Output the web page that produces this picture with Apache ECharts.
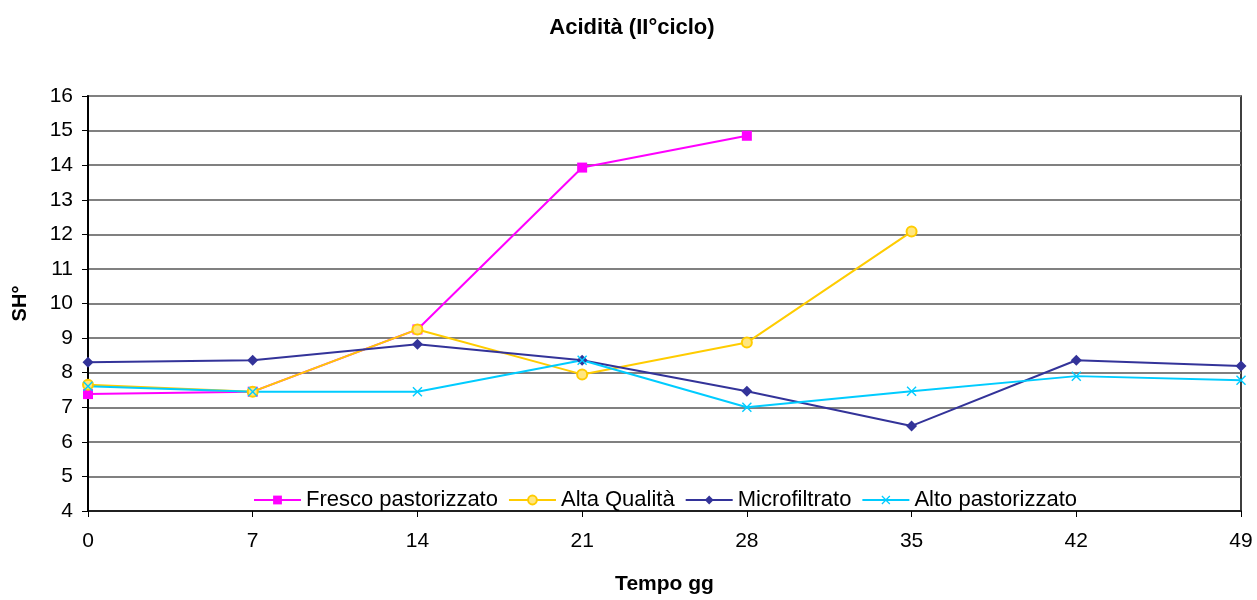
<!DOCTYPE html>
<html>
<head>
<meta charset="utf-8">
<script src="https://cdn.jsdelivr.net/npm/echarts@6/dist/echarts.min.js"></script>
<style>html,body{margin:0;padding:0;background:#fff;}#c{width:1257px;height:600px;}</style>
</head>
<body>
<div id="c"></div>
<script>
const categories = ['0','7','14','21','28','35','42','49'];
const frescoPastorizzato = [7.38, 7.45, 9.25, 13.93, 14.85, null, null, null];
const altaQualita = [7.65, 7.45, 9.25, 7.95, 8.87, 12.08, null, null];
const microfiltrato = [8.3, 8.36, 8.82, 8.36, 7.46, 6.46, 8.36, 8.19];
const altoPastorizzato = [7.61, 7.45, 7.45, 8.36, 7.0, 7.46, 7.9, 7.78];
const seriesNames = ['Fresco pastorizzato', 'Alta Qualità', 'Microfiltrato', 'Alto pastorizzato'];

const crossPath = 'path://M0,1L1,0L5,4L9,0L10,1L6,5L10,9L9,10L5,6L1,10L0,9L4,5Z';
const font = 'Liberation Sans, Arial, sans-serif';

const chart = echarts.init(document.getElementById('c'), null, {renderer: 'canvas'});
chart.setOption({
  animation: false,
  backgroundColor: '#fff',
  title: {
    text: 'Acidità (II°ciclo)',
    left: 627, top: 12, textAlign: 'center',
    textStyle: {fontFamily: font, fontSize: 22, fontWeight: 'bold', color: '#000'}
  },
  grid: {left: 88, right: 16, top: 96, bottom: 85, show: true, borderColor: '#000', borderWidth: 1.5, backgroundColor: 'transparent'},
  legend: {
    bottom: 84, left: 248,
    itemWidth: 47, itemHeight: 11, itemGap: 10,
    textStyle: {fontFamily: font, fontSize: 22, color: '#000'},
    data: seriesNames
  },
  xAxis: {
    type: 'category', data: categories, boundaryGap: false,
    name: 'Tempo gg', nameLocation: 'middle', nameGap: 63,
    nameTextStyle: {fontFamily: font, fontSize: 21, fontWeight: 'bold', color: '#000'},
    axisLine: {lineStyle: {color: '#000', width: 1.5}},
    axisTick: {show: true, length: 6, lineStyle: {color: '#000'}},
    axisLabel: {fontFamily: font, fontSize: 21, color: '#000', margin: 20},
    splitLine: {show: false}
  },
  yAxis: {
    type: 'value', min: 4, max: 16, interval: 1,
    name: 'SH°', nameLocation: 'middle', nameGap: 58, nameRotate: 90,
    nameTextStyle: {fontFamily: font, fontSize: 20, fontWeight: 'bold', color: '#000'},
    axisLine: {show: true, lineStyle: {color: '#000', width: 2}},
    axisTick: {show: true, length: 6, lineStyle: {color: '#000'}},
    axisLabel: {fontFamily: font, fontSize: 21, color: '#000', margin: 15},
    splitLine: {show: true, lineStyle: {color: '#808080', width: 2}}
  },
  series: [
    {name: seriesNames[0], type: 'line', data: frescoPastorizzato, connectNulls: false,
     symbol: 'rect', symbolSize: 10, showAllSymbol: true,
     lineStyle: {color: '#FF00FF', width: 2}, itemStyle: {color: '#FF00FF'}},
    {name: seriesNames[1], type: 'line', data: altaQualita,
     symbol: 'circle', symbolSize: 10, showAllSymbol: true,
     lineStyle: {color: '#FFCC00', width: 2}, itemStyle: {color: '#FFE680', borderColor: '#FFCC00', borderWidth: 2}},
    {name: seriesNames[2], type: 'line', data: microfiltrato,
     symbol: 'diamond', symbolSize: 11, showAllSymbol: true,
     lineStyle: {color: '#333399', width: 2}, itemStyle: {color: '#333399'}},
    {name: seriesNames[3], type: 'line', data: altoPastorizzato,
     symbol: crossPath, symbolSize: 10, showAllSymbol: true,
     lineStyle: {color: '#00CCFF', width: 2}, itemStyle: {color: '#00CCFF'}}
  ]
});
</script>
</body>
</html>
